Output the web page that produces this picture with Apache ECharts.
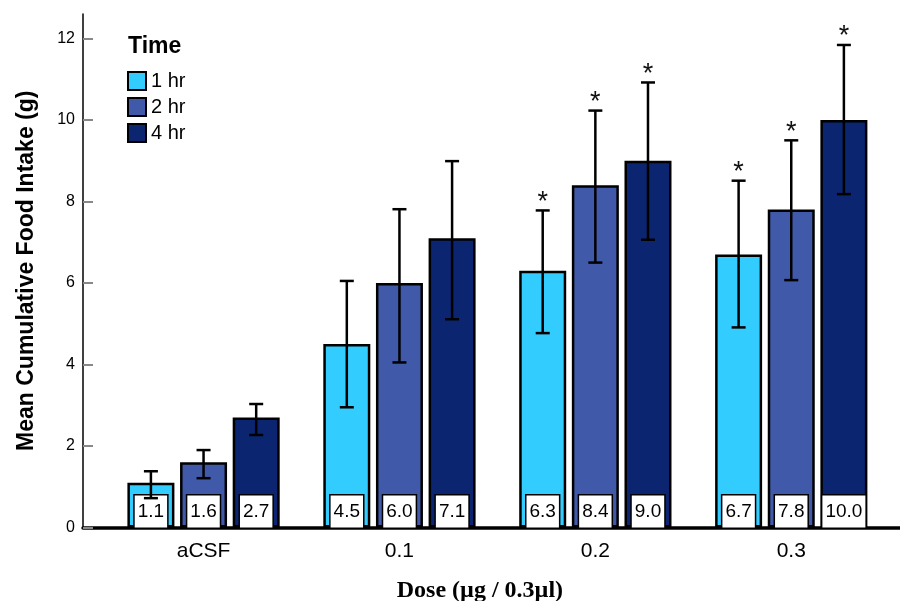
<!DOCTYPE html>
<html>
<head>
<meta charset="utf-8">
<script src="https://cdn.jsdelivr.net/npm/echarts@6/dist/echarts.min.js"></script>
<style>
html,body{margin:0;padding:0;background:#fff;}
#chart{width:900px;height:601px;}
</style>
</head>
<body>
<div id="chart"></div>
<script>
// ---- data ----
const categories = ['aCSF', '0.1', '0.2', '0.3'];
const seriesNames = ['1 hr', '2 hr', '4 hr'];
const mean1hr = [1.1, 4.5, 6.3, 6.7];
const mean2hr = [1.6, 6.0, 8.4, 7.8];
const mean4hr = [2.7, 7.1, 9.0, 10.0];
const errLow1hr = [0.72, 2.95, 4.77, 4.91];
const errHigh1hr = [1.38, 6.05, 7.78, 8.51];
const errLow2hr = [1.21, 4.05, 6.50, 6.07];
const errHigh2hr = [1.90, 7.81, 10.23, 9.50];
const errLow4hr = [2.27, 5.11, 7.06, 8.18];
const errHigh4hr = [3.03, 8.99, 10.92, 11.84];
const sig1hr = [0, 0, 1, 1];
const sig2hr = [0, 0, 1, 1];
const sig4hr = [0, 0, 1, 1];
const yTicks = [0, 2, 4, 6, 8, 10, 12];
const yMax = 12.6;

// ---- styling ----
const colors = ['#33CCFF', '#4059A9', '#0B2571'];
const SANS = 'Liberation Sans, Arial, sans-serif';
const SERIF = 'Liberation Serif, Times New Roman, serif';
const BAR_W = 47;
const BAR_GAP = 0.12;

const means = [mean1hr, mean2hr, mean4hr];
const lows = [errLow1hr, errLow2hr, errLow4hr];
const highs = [errHigh1hr, errHigh2hr, errHigh4hr];
const sigs = [sig1hr, sig2hr, sig4hr];

const chart = echarts.init(document.getElementById('chart'), null, {renderer: 'canvas'});

const barSeries = seriesNames.map((name, i) => ({
  name: name,
  type: 'bar',
  xAxisIndex: 0,
  yAxisIndex: 0,
  data: means[i],
  barWidth: BAR_W,
  barGap: (BAR_GAP * 100) + '%',
  itemStyle: {color: colors[i], borderColor: '#000', borderWidth: 2.5},
  label: {
    show: true,
    position: 'insideBottom',
    distance: 0,
    formatter: p => p.value.toFixed(1),
    color: '#000',
    fontFamily: SANS,
    fontSize: 19,
    lineHeight: 24,
    backgroundColor: '#fff',
    borderColor: '#000',
    borderWidth: 1.5,
    padding: [4, 3, 4, 3]
  }
}));

const errSeries = seriesNames.map((name, i) => ({
  name: name + ' err',
  type: 'custom',
  xAxisIndex: 0,
  yAxisIndex: 0,
  z: 5,
  data: categories.map((c, k) => [k, lows[i][k], highs[i][k], sigs[i][k]]),
  encode: {x: 0, y: [1, 2]},
  renderItem: function (params, api) {
    const k = api.value(0);
    const lo = api.coord([k, api.value(1)]);
    const hi = api.coord([k, api.value(2)]);
    const off = (i - 1) * BAR_W * (1 + BAR_GAP);
    const x = lo[0] + off;
    const cap = 7;
    const children = [
      {type: 'line', shape: {x1: x, y1: hi[1], x2: x, y2: lo[1]}, style: {stroke: '#000', lineWidth: 2.5}},
      {type: 'line', shape: {x1: x - cap, y1: hi[1], x2: x + cap, y2: hi[1]}, style: {stroke: '#000', lineWidth: 2.5}},
      {type: 'line', shape: {x1: x - cap, y1: lo[1], x2: x + cap, y2: lo[1]}, style: {stroke: '#000', lineWidth: 2.5}}
    ];
    if (api.value(3)) {
      children.push({
        type: 'text',
        x: x, y: hi[1] - 8,
        style: {text: '*', fill: '#111', font: '27px ' + SANS, align: 'center', verticalAlign: 'middle'}
      });
    }
    return {type: 'group', children: children};
  }
}));

const option = {
  backgroundColor: '#fff',
  animation: false,
  title: {
    text: 'Time',
    left: 128,
    top: 35,
    padding: 0,
    textStyle: {fontFamily: SANS, fontWeight: 'bold', fontSize: 23, color: '#000'}
  },
  legend: {
    data: seriesNames,
    orient: 'vertical',
    left: 127,
    top: 71,
    padding: 0,
    itemWidth: 18,
    itemHeight: 18,
    itemGap: 6,
    icon: 'rect',
    textStyle: {fontFamily: SANS, fontSize: 20, color: '#000', lineHeight: 18}
  },
  grid: [
    {left: 105.6, right: 10.8, top: 14, bottom: 73.5, outerBoundsMode: 'none', containLabel: false},
    {left: 83, right: 0, top: 14, bottom: 73.5, outerBoundsMode: 'none', containLabel: false}
  ],
  xAxis: [
    {
      gridIndex: 0,
      type: 'category',
      data: categories,
      axisLine: {show: false},
      axisTick: {show: false},
      axisLabel: {fontFamily: SANS, fontSize: 21, color: '#000', margin: 13},
      name: 'Dose (µg / 0.3µl)',
      nameLocation: 'middle',
      nameGap: 51,
      nameTextStyle: {fontFamily: SERIF, fontWeight: 'bold', fontSize: 24, color: '#000', padding: [0, 35, 0, 0]}
    },
    {
      gridIndex: 1,
      type: 'value',
      min: 0,
      max: 1,
      axisLine: {show: true, lineStyle: {color: '#000', width: 3.5}},
      axisTick: {show: false},
      axisLabel: {show: false},
      splitLine: {show: false}
    }
  ],
  yAxis: [
    {gridIndex: 0, type: 'value', min: 0, max: yMax, show: false, splitLine: {show: false}},
    {
      gridIndex: 1,
      type: 'value',
      min: 0,
      max: yMax,
      axisLine: {show: true, lineStyle: {color: '#000', width: 1.5}},
      axisTick: {show: true, inside: true, length: 10, lineStyle: {color: '#888', width: 2}, customValues: yTicks},
      axisLabel: {fontFamily: SANS, fontSize: 16, color: '#000', margin: 8, customValues: yTicks},
      splitLine: {show: false},
      name: 'Mean Cumulative Food Intake (g)',
      nameLocation: 'middle',
      nameGap: 45,
      nameTextStyle: {fontFamily: SANS, fontWeight: 'bold', fontSize: 23, color: '#000'}
    }
  ],
  series: barSeries.concat(errSeries)
};

chart.setOption(option);
</script>
</body>
</html>
